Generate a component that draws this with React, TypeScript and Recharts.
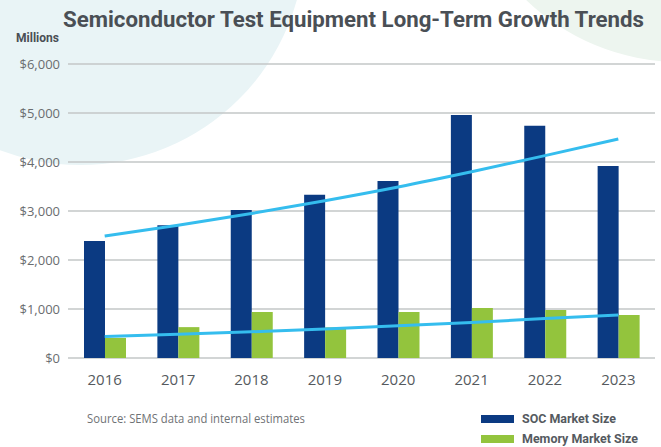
import React from "react";
import { ComposedChart, Bar, Line, XAxis, YAxis, CartesianGrid } from "recharts";

const years = ["2016", "2017", "2018", "2019", "2020", "2021", "2022", "2023"];
const socMarket = [2390, 2710, 3020, 3330, 3610, 4960, 4740, 3920];
const memoryMarket = [410, 630, 940, 625, 940, 1020, 980, 880];
const socTrend = [2490, 2710, 2950, 3210, 3490, 3800, 4130, 4470];
const memoryTrend = [440, 485, 535, 592, 656, 727, 805, 880];
const yTicks = [0, 1000, 2000, 3000, 4000, 5000, 6000];

const seriesNames = ["SOC Market Size", "Memory Market Size"];
const seriesColors = ["#0b3a82", "#93c43d"];
const trendColor = "#35bdee";

const title = "Semiconductor Test Equipment Long-Term Growth Trends";
const unitLabel = "Millions";
const sourceText = "Source: SEMS data and internal estimates";

const data = years.map((y, i) => ({
  year: y,
  soc: socMarket[i],
  memory: memoryMarket[i],
  socTrend: socTrend[i],
  memoryTrend: memoryTrend[i],
}));

const fmt = (v: number) => "$" + v.toLocaleString("en-US");

export default function App() {
  return (
    <div style={{ position: "fixed", left: 0, top: 0, width: 661, height: 447, background: "#ffffff", overflow: "hidden" }}>
      <svg width={661} height={447} style={{ position: "absolute", left: 0, top: 0 }}>
        <rect x={0} y={0} width={661} height={447} fill="#ffffff" />
        <circle cx={80} cy={-60} r={225} fill="#e9f4f6" />
        <circle cx={680} cy={-160} r={222} fill="#edf5ef" />
      </svg>
      <div style={{ position: "absolute", left: 0, top: 0 }}>
        <ComposedChart
          width={661}
          height={447}
          data={data}
          margin={{ top: 64, right: 6, bottom: 59, left: 0 }}
          barGap={0}
        >
          <CartesianGrid vertical={false} stroke="#c3c7c7" strokeWidth={1.6} />
          <XAxis
            dataKey="year"
            axisLine={false}
            tickLine={false}
            height={30}
            tickMargin={10}
            tick={{ fontSize: 15, fill: "#555a5e", fontFamily: "Open Sans" }}
          />
          <YAxis
            width={68}
            domain={[0, 6000]}
            ticks={yTicks}
            axisLine={false}
            tickLine={false}
            tickFormatter={fmt}
            tick={{ fontSize: 13, fill: "#6a6d70", fontFamily: "Open Sans" }}
          />
          <Bar dataKey="soc" name={seriesNames[0]} fill={seriesColors[0]} barSize={21} isAnimationActive={false} />
          <Bar dataKey="memory" name={seriesNames[1]} fill={seriesColors[1]} barSize={21} isAnimationActive={false} />
          <Line dataKey="socTrend" type="monotone" stroke={trendColor} strokeWidth={3} dot={false} activeDot={false} isAnimationActive={false} />
          <Line dataKey="memoryTrend" type="monotone" stroke={trendColor} strokeWidth={3} dot={false} activeDot={false} isAnimationActive={false} />
        </ComposedChart>
      </div>
      <svg width={661} height={447} style={{ position: "absolute", left: 0, top: 0, pointerEvents: "none" }}>
        <text x={63} y={27} fontFamily="Roboto" fontWeight={700} fontSize={22} fill="#4a4f55" textLength={581} lengthAdjust="spacingAndGlyphs">
          {title}
        </text>
        <text x={16} y={42} fontFamily="Roboto" fontWeight={700} fontSize={12} fill="#4a4f55" textLength={43} lengthAdjust="spacingAndGlyphs">
          {unitLabel}
        </text>
        <text x={87} y={423} fontFamily="Open Sans" fontSize={12.5} fill="#6f7275" textLength={218} lengthAdjust="spacingAndGlyphs">
          {sourceText}
        </text>
        <rect x={481} y={415} width={33} height={8} fill={seriesColors[0]} />
        <text x={522} y={423} fontFamily="Roboto" fontWeight={700} fontSize={13} fill="#555a60" textLength={94} lengthAdjust="spacingAndGlyphs">
          {seriesNames[0]}
        </text>
        <rect x={481} y={435} width={33} height={8} fill={seriesColors[1]} />
        <text x={522} y={443} fontFamily="Roboto" fontWeight={700} fontSize={13} fill="#555a60" textLength={116} lengthAdjust="spacingAndGlyphs">
          {seriesNames[1]}
        </text>
      </svg>
    </div>
  );
}
